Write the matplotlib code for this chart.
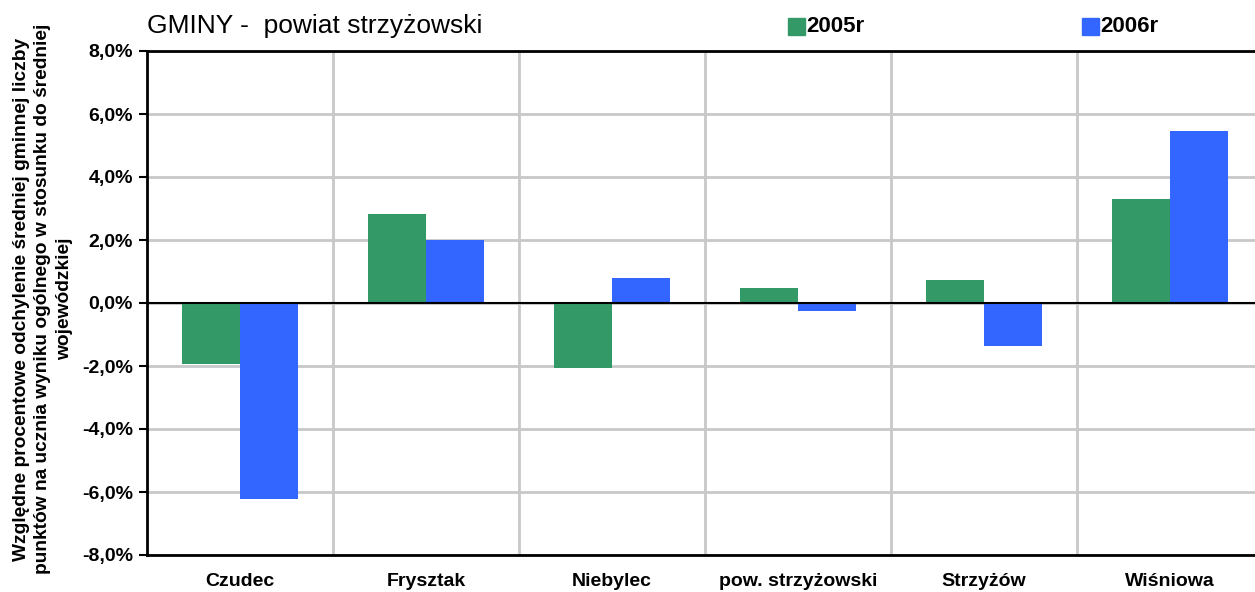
import numpy as np
import matplotlib
matplotlib.use("Agg")
import matplotlib.pyplot as plt
import matplotlib.patches as patches

plt.rcParams['font.family'] = ['Liberation Sans', 'DejaVu Sans']

# data (percent)
gminy = ["Czudec", "Frysztak", "Niebylec", "pow. strzyżowski", "Strzyżów", "Wiśniowa"]
rok_2005 = [-1.93, 2.83, -2.05, 0.48, 0.73, 3.30]
rok_2006 = [-6.22, 2.00, 0.79, -0.24, -1.35, 5.46]
serie = ["2005r", "2006r"]
y_ticks = [-8, -6, -4, -2, 0, 2, 4, 6, 8]

green = "#339966"
blue = "#3366FF"
grid_c = "#c8c8c8"

W, H = 1255, 592
fig = plt.figure(figsize=(W / 100, H / 100), dpi=100)
ax = fig.add_axes([147 / W, (H - 555) / H, (1263 - 147) / W, 504 / H])

x = np.arange(len(gminy))
bw = 0.312
ax.bar(x - bw / 2, rok_2005, bw, color=green, zorder=3)
ax.bar(x + bw / 2, rok_2006, bw, color=blue, zorder=3)

ax.set_xlim(-0.5, len(gminy) - 0.5)
ax.set_ylim(-8, 8)

# grid
for yv in y_ticks:
    ax.axhline(yv, color=grid_c, lw=2, zorder=1)
for b in np.arange(0.5, len(gminy) - 0.5, 1):
    ax.axvline(b, color=grid_c, lw=2, zorder=1)
ax.axhline(0, color="black", lw=1.5, zorder=4)

for s in ["left", "top", "bottom"]:
    ax.spines[s].set_color("black")
    ax.spines[s].set_linewidth(2)
ax.spines["right"].set_visible(False)

ax.set_yticks(y_ticks)
ax.set_yticklabels([("%.1f%%" % v).replace(".", ",") for v in y_ticks],
                   fontsize=14, fontweight="bold")
ax.tick_params(axis="y", length=6, width=1.5, pad=4)
ax.set_xticks(x)
ax.set_xticklabels(gminy, fontsize=14, fontweight="bold")
ax.tick_params(axis="x", length=0, pad=13)

fig.text(43 / W, (H - 299) / H,
         "Względne procentowe odchylenie średniej gminnej liczby\n"
         "punktów na ucznia wyniku ogólnego w stosunku do średniej\n"
         "wojewódzkiej",
         rotation=90, ha="center", va="center", multialignment="center",
         fontsize=13.8, fontweight="bold", linespacing=1.36)

fig.text(147 / W, (H - 26) / H, "GMINY -  powiat strzyżowski",
         fontsize=19, ha="left", va="center")

# legend
for xs, col, lab in [(788, green, serie[0]), (1082, blue, serie[1])]:
    fig.patches.append(patches.Rectangle((xs / W, (H - 35) / H), 17 / W, 17 / H,
                                         transform=fig.transFigure, color=col))
    fig.text((xs + 18) / W, (H - 26) / H, lab, fontsize=16, fontweight="bold",
             ha="left", va="center")

fig.savefig("out.png", dpi=100)
